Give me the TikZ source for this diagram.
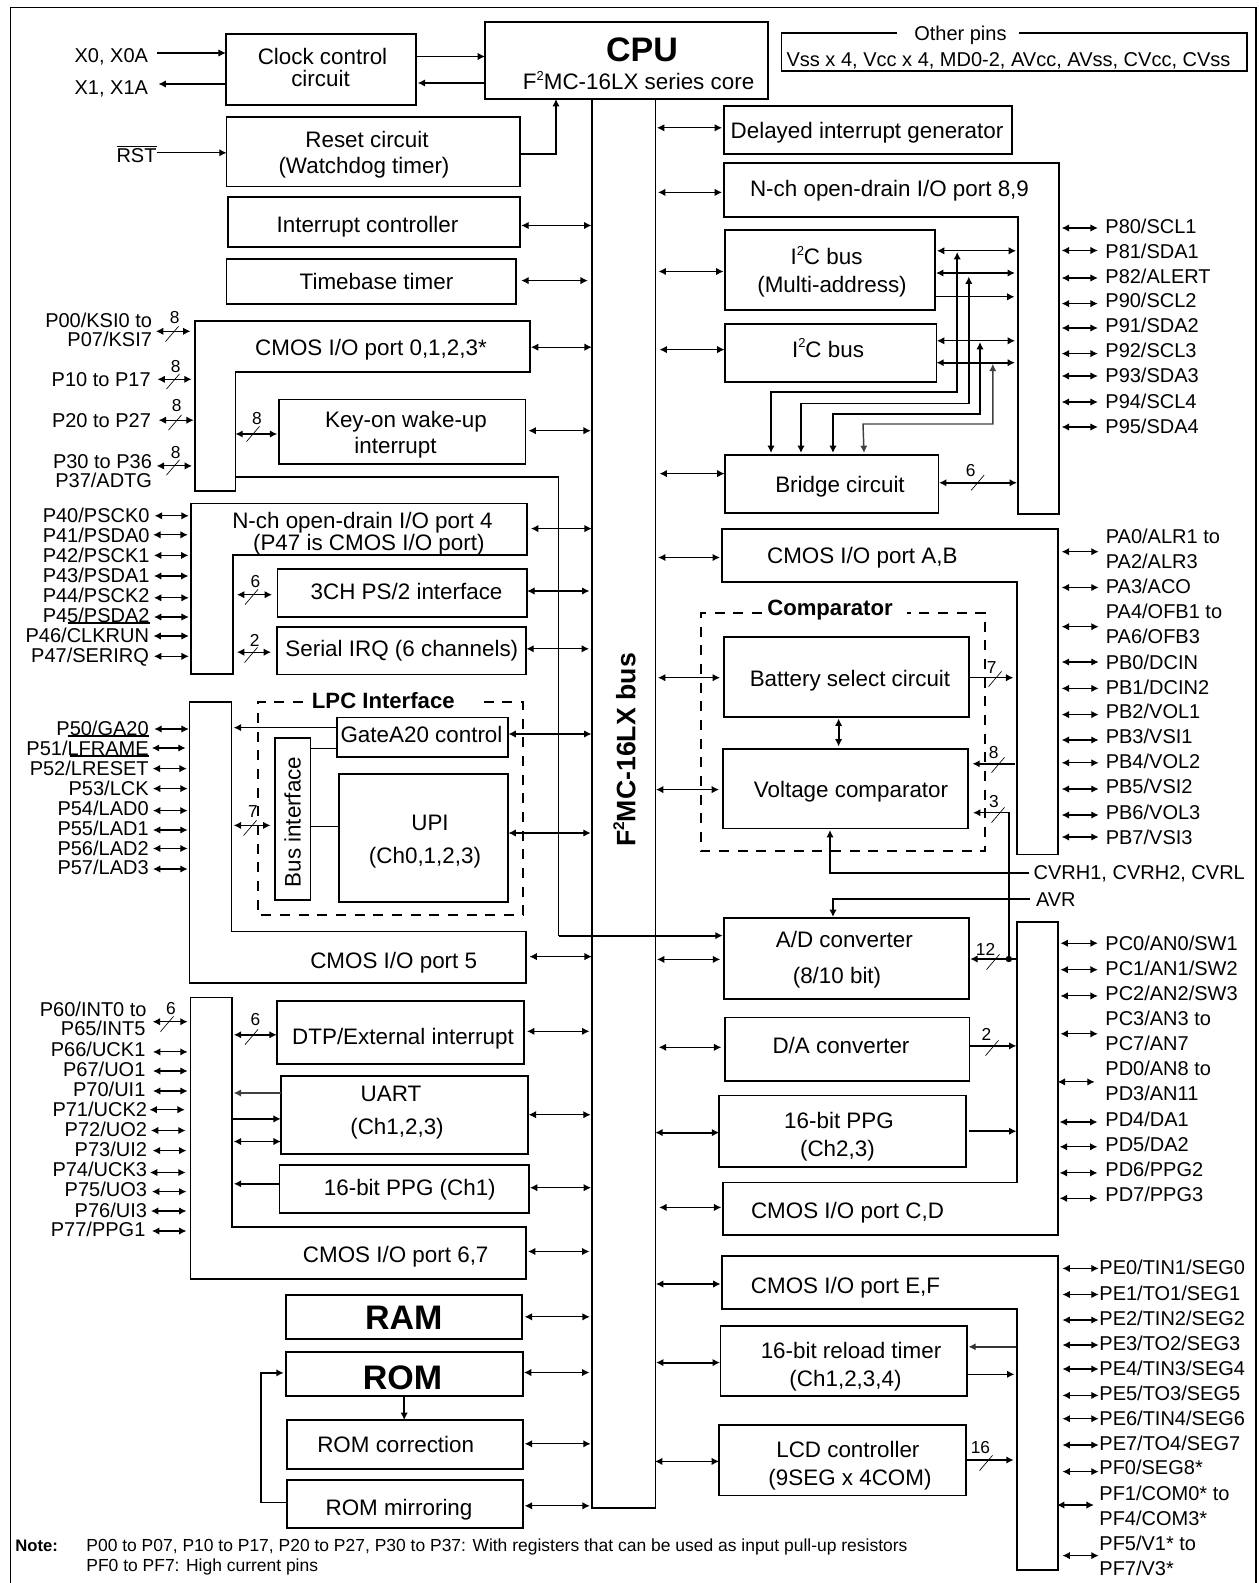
\documentclass[tikz,border=0pt]{standalone}
\usepackage{fontspec}
\setmainfont{Liberation Sans}
\usetikzlibrary{arrows.meta,calc}
\newcommand\xsup[1]{\raisebox{.42em}{\scalebox{.58}{#1}}}
\tikzset{
  bxs/.style={draw,line width=1.3pt,inner sep=0pt,outer sep=0pt},
  lshape/.style={draw,line width=1.3pt,line join=miter},
  bxt/.style={inner sep=0pt,outer sep=0pt,font=\fontsize{16.8}{16.8}\selectfont,text height=12pt,text depth=0pt},
  bigt/.style={inner sep=0pt,outer sep=0pt,font=\fontsize{25.5}{25.5}\selectfont\bfseries,text height=18.3pt,text depth=0pt},
  boldt/.style={inner sep=0pt,outer sep=0pt,font=\fontsize{16.6}{16.6}\selectfont\bfseries,text height=11.9pt,text depth=0pt},
  lab/.style={inner sep=0pt,outer sep=0pt,font=\fontsize{15}{15}\selectfont,text height=10.74pt,text depth=0pt},
  numt/.style={inner sep=0pt,outer sep=0pt,font=\fontsize{13}{13}\selectfont},
  notet/.style={inner sep=0pt,outer sep=0pt,anchor=west,font=\fontsize{13.1}{13.1}\selectfont,text height=9.4pt,text depth=0pt},
  bi/.style={{Latex[length=5.5pt,width=5.5pt]}-{Latex[length=5.5pt,width=5.5pt]},line width=.8pt},
  bik/.style={{Latex[length=5.5pt,width=5.5pt]}-{Latex[length=5.5pt,width=5.5pt]},line width=1.4pt},
  ar/.style={-{Latex[length=5.5pt,width=5.5pt]},line width=.8pt},
  ark/.style={-{Latex[length=5.5pt,width=5.5pt]},line width=1.4pt},
  wire/.style={line width=1.1pt},
  slashs/.style={line width=.5pt},
  dashbox/.style={line width=1.2pt,dash pattern=on 7.5pt off 6.5pt},
}
\newcommand\xbox[5]{\node[bxs,minimum width={(#4-#2)*.75pt},minimum height={(#5-#3)*.75pt}] (#1) at ({(#2+#4)/2},{(#3+#5)/2}) {};}
\newcommand\xtxt[4]{\node[bxt] (#1) at (#2,#3) {#4};}
\newcommand\xnum[4]{\node[numt] (#1) at (#2,#3) {#4};}
\newcommand\xslash[2]{\draw[slashs] ({#1-6.5},{#2+7.6}) -- ({#1+6.5},{#2-7.6});}
% box east side to bus west side
\newcommand\lbus[5][bi]{\draw[#1] ($(#2.east |- 0,#3)+(#4,0)$) -- ($(bus.west |- 0,#3)+(-#5,0)$);}
% bus east side to box west side
\newcommand\rbus[5][bi]{\draw[#1] ($(bus.east |- 0,#3)+(#4,0)$) -- ($(#2.west |- 0,#3)+(-#5,0)$);}
% pin label on the left: name, right x, y, text, arrow y, gap to label, block, gap to block
\newcommand\lpin[8]{\node[lab,anchor=east] (#1) at (#2,#3) {#4};
  \draw[bi] ($(#1.east |- 0,#5)+(#6,0)$) -- ($(#7 |- 0,#5)+(-#8,0)$);}
% pin label on the right: name, left x, y, text, arrow y, block, gap to block, gap to label
\newcommand\rpin[8]{\node[lab,anchor=west] (#1) at (#2,#3) {#4};
  \draw[bi] ($(#6 |- 0,#5)+(#7,0)$) -- ($(#1.west |- 0,#5)+(-#8,0)$);}
\newcommand\rlab[4]{\node[lab,anchor=west] (#1) at (#2,#3) {#4};}
\begin{document}
\begin{tikzpicture}[x=.75pt,y=-.75pt]
\useasboundingbox (0,0) rectangle (1258,1583);
% frame
\draw[line width=1.1pt] (10.4,1583) -- (10.4,7.4) -- (1256,7.4) -- (1256,1583);
% bus
\xbox{bus}{591.8}{99}{655.6}{1508}
\node[inner sep=0pt,rotate=90,font=\fontsize{20}{20}\selectfont\bfseries] (bust) at (624.5,750) {F\xsup{2}MC-16LX bus};
% cpu
\node[bxs,fill=white,minimum width={283*.75pt},minimum height={77*.75pt}] (cpu) at (626.5,60.5) {};
\node[bigt] (cput) at (642,49.5) {CPU};
\xtxt{cput2}{638.6}{82}{F\xsup{2}MC-16LX series core}
% clock
\xbox{clk}{225.8}{33.8}{415.8}{105.1}
\xtxt{clkt1}{322.5}{57}{Clock control}
\xtxt{clkt2}{320.5}{78.5}{circuit}
\draw[ar] (clk.east |- 0,56.5) -- (cpu.west |- 0,56.5);
\draw[ar] (cpu.west |- 0,83) -- ($(clk.east |- 0,83)+(2,0)$);
\node[lab,anchor=east] (x0) at (148,55) {X0, X0A};
\node[lab,anchor=east] (x1) at (148,87) {X1, X1A};
\draw[ar] ($(x0.east |- 0,53)+(9,0)$) -- (clk.west |- 0,53);
\draw[ar] (clk.west |- 0,84) -- ($(x1.east |- 0,84)+(10.5,0)$);
% reset
\xbox{rst}{226.6}{117}{520.3}{186.6}
\xtxt{rstt1}{367}{139.5}{Reset circuit}
\xtxt{rstt2}{364}{165.5}{(Watchdog timer)}
\node[lab,anchor=east] (rstl) at (156.5,155) {$\overline{\hbox{RST}}$};
\draw[ar] (rstl.east |- 0,152.8) -- (rst.west |- 0,152.8);
\coordinate (rstk) at (556,154);
\draw[ark] (rst.east |- rstk) -- (rstk) -- (rstk |- cpu.south);
% interrupt / timebase
\xbox{intc}{227.8}{197}{520.3}{247}
\xtxt{intct}{367.5}{224.5}{Interrupt controller}
\lbus{intc}{225.5}{1}{0.4}
\xbox{tbt}{226.6}{259}{516.3}{304}
\xtxt{tbtt}{376.5}{281.5}{Timebase timer}
\lbus{tbt}{280.6}{5}{4}
% port 0-3
\coordinate (p0) at (195.3,321);
\draw[lshape] (p0) -- (530,321) -- (530,372) -- (235.4,372) -- (235.4,491) -- (195.3,491) -- cycle;
\xtxt{p0t}{371}{347}{CMOS I/O port 0,1,2,3*}
\coordinate (p0i) at (235.4,476.7);
\draw[lshape,line width=1.2pt] (p0i) -- (558.5,476.7) -- (558.5,935.6) coordinate (p0c);
\draw[bi] (531,347.2) coordinate (p0e) -- (bus.west |- p0e);
\xbox{key}{278.8}{399.6}{525.5}{464.2}
\xtxt{keyt1}{406}{419}{Key-on wake-up}
\xtxt{keyt2}{395.5}{445}{interrupt}
\lbus{key}{430.7}{3}{1}
\draw[bik] ($(p0i |- 0,434)+(0,0)$) -- ($(key.west |- 0,434)+(-1.5,0)$);
\xnum{n8k}{257}{419}{8}\xslash{253}{434}
\node[lab,anchor=east] (p00) at (152,320.5) {P00/KSI0 to};
\node[lab,anchor=east] (p07) at (152,339.8) {P07/KSI7};
\draw[bi] ($(p07.east |- 0,331.3)+(4,0)$) -- ($(p0 |- 0,331.3)+(-4.9,0)$);
\xnum{n80}{174.8}{317.8}{8}\xslash{172}{334}
\lpin{p10}{150.7}{379.6}{P10 to P17}{379.3}{6.8}{p0}{3.7}
\xnum{n81}{175.6}{366.8}{8}\xslash{173}{381.5}
\lpin{p20}{151}{420}{P20 to P27}{420.2}{7.7}{p0}{1.6}
\xnum{n82}{176.8}{405.7}{8}\xslash{175}{422.5}
\node[lab,anchor=east] (p30) at (152,461.5) {P30 to P36};
\node[lab,anchor=east] (p37) at (152,480) {P37/ADTG};
\draw[bi] ($(p30.east |- 0,465.9)+(4.7,0)$) -- ($(p0 |- 0,465.9)+(-3.3,0)$);
\xnum{n83}{175.6}{453}{8}\xslash{173}{467.5}
% port 4
\coordinate (p4) at (190.8,503.4);
\draw[lshape] (p4) -- (526.7,503.4) -- (526.7,555) -- (233,555) -- (233,674) -- (190.8,674) -- cycle;
\xtxt{p4t1}{362.4}{520.7}{N-ch open-drain I/O port 4}
\xtxt{p4t2}{368.8}{542}{(P47 is CMOS I/O port)}
\draw[bi] (531,528.6) coordinate (p4e) -- (bus.west |- p4e);
\xbox{ps2}{277.6}{568.9}{526.7}{617}
\xtxt{ps2t}{406.6}{591.2}{3CH PS/2 interface}
\lbus{ps2}{591}{0.5}{2.4}
\xbox{irq}{276.8}{627}{525.9}{674.6}
\xtxt{irqt}{401.8}{648.4}{Serial IRQ (6 channels)}
\lbus{irq}{648.8}{0.5}{2.8}
\draw[bi] (237,594.7) coordinate (a6) -- ($(ps2.west |- a6)+(-5.6,0)$);
\xnum{n6p}{255.5}{582}{6}\xslash{251.5}{597}
\draw[bi] (237,652.2) coordinate (a2) -- ($(irq.west |- a2)+(-5.8,0)$);
\xnum{n2i}{254.7}{640}{2}\xslash{251}{655}
\lpin{p40}{149.5}{515.5}{P40/PSCK0}{515.8}{5.2}{p4}{2}
\lpin{p41}{149.5}{535.5}{P41/PSDA0}{534.8}{3.7}{p4}{3}
\lpin{p42}{149.5}{555}{P42/PSCK1}{555.4}{4.5}{p4}{2.4}
\lpin{p43}{149.5}{575}{P43/PSDA1}{576}{4.5}{p4}{2.4}
\lpin{p44}{149.5}{595.4}{P44/PSCK2}{597.8}{4.5}{p4}{2}
\lpin{p45}{149.5}{615.4}{P45/PSDA2}{617}{4.5}{p4}{2}
\lpin{p46}{149}{635}{P46/CLKRUN}{636}{4.5}{p4}{2}
\lpin{p47}{149}{655}{P47/SERIRQ}{656.3}{5}{p4}{2}
\draw[line width=1pt] (67.5,623) -- (p45.east |- 0,623);
% port 5
\coordinate (p5) at (189.6,702);
\draw[lshape] (p5) -- (231.4,702) -- (231.4,931.5) -- (526,931.5) -- (526,982.8) -- (189.6,982.8) -- cycle;
\xtxt{p5t}{393.7}{960.4}{CMOS I/O port 5}
\draw[bi] (529.5,956.6) coordinate (p5e) -- (bus.west |- p5e);
\draw[dashbox] (303,702) -- (258,702) -- (258,915) -- (523,915) -- (523,702) -- (477.3,702);
\node[boldt] (lpct) at (383.3,700.4) {LPC Interface};
\xbox{gate}{336.7}{717.6}{508.2}{756.9}
\xtxt{gatet}{421.5}{734}{GateA20 control}
\xbox{bif}{274.8}{738.3}{310.6}{900}
\node[bxt,rotate=90,text height=12pt] (bift) at (292.5,822) {Bus interface};
\xbox{upi}{338.7}{774}{508.2}{901.9}
\xtxt{upit1}{430}{822.7}{UPI}
\xtxt{upit2}{425}{855.7}{(Ch0,1,2,3)}
\draw[ar] (gate.west |- 0,727.6) -- (233.8,727.6);
\draw[wire] (bif.east |- 0,748.6) -- (gate.west |- 0,748.6);
\draw[wire] (bif.east |- 0,826.4) -- (upi.west |- 0,826.4);
\draw[bi] (233.8,825.4) coordinate (a7) -- (270.4,825.4);
\xnum{n7}{253}{811.6}{7}\xslash{250}{828}
\lbus{gate}{734}{0.3}{0.4}
\lbus{upi}{833}{0.3}{1.2}
\lpin{p50}{148.7}{728}{P50/GA20}{729}{5.6}{p5}{0.8}
\lpin{p51}{148.7}{748}{P51/LFRAME}{748}{3.2}{p5}{4}
\lpin{p52}{148.7}{768}{P52/LRESET}{768.6}{4}{p5}{2.8}
\lpin{p53}{148.7}{788}{P53/LCK}{788.6}{4.3}{p5}{2}
\lpin{p54}{148.7}{808}{P54/LAD0}{810.6}{4.3}{p5}{2}
\lpin{p55}{148.7}{828}{P55/LAD1}{830}{4.3}{p5}{2}
\lpin{p56}{148.7}{848}{P56/LAD2}{848.5}{4.3}{p5}{2}
\lpin{p57}{148.7}{867.8}{P57/LAD3}{869}{4.3}{p5}{2}
\draw[line width=1pt] (67.5,735.9) -- (p50.east |- 0,735.9);
\draw[line width=1pt] (69.5,755.9) -- (p51.east |- 0,755.9);
% port 6,7
\coordinate (p6) at (190.4,997.6);
\draw[lshape] (p6) -- (232.2,997.6) -- (232.2,1227.2) -- (526.3,1227.2) -- (526.3,1278.7) -- (190.4,1278.7) -- cycle;
\xtxt{p6t}{395.7}{1254.3}{CMOS I/O port 6,7}
\draw[bi] (528,1251.5) coordinate (p6e) -- ($(bus.west |- p6e)+(-2.4,0)$);
\xbox{dtp}{276.8}{1001}{524.3}{1063.9}
\xtxt{dtpt}{403}{1036}{DTP/External interrupt}
\lbus{dtp}{1031.3}{2.7}{2.4}
\draw[bik] (233.8,1034.8) coordinate (a6d) -- (dtp.west |- a6d);
\xnum{n6d}{255.5}{1020}{6}\xslash{251.5}{1037}
\xbox{uart}{280.8}{1075.9}{528}{1153.8}
\xtxt{uartt1}{391}{1093.5}{UART}
\xtxt{uartt2}{397}{1126}{(Ch1,2,3)}
\lbus{uart}{1114.7}{0.7}{1.2}
\draw[ar,black!75] (uart.west |- 0,1093) -- (233.8,1093);
\coordinate (p6i) at (232.2,1118.9);
\draw[ark] (p6i) -- (uart.west |- p6i);
\draw[bi] (233.8,1141.5) coordinate (a3u) -- (uart.west |- a3u);
\xbox{ppg1}{279.6}{1165}{528.7}{1213}
\xtxt{ppg1t}{409.8}{1187.3}{16-bit PPG (Ch1)}
\lbus{ppg1}{1187.7}{1.3}{0.8}
\draw[ark] (ppg1.west |- 0,1183.8) -- (233.8,1183.8);
\node[lab,anchor=east] (p60) at (146.6,1009.6) {P60/INT0 to};
\node[lab,anchor=east] (p65) at (145.4,1028.6) {P65/INT5};
\draw[bi] ($(p65.east |- 0,1021.7)+(7.3,0)$) -- ($(p6 |- 0,1021.7)+(-2.8,0)$);
\xnum{n6i}{171}{1009}{6}\xslash{167}{1024}
\lpin{p66}{145.4}{1049.4}{P66/UCK1}{1051.9}{7.6}{p6}{2.8}
\lpin{p67}{145.4}{1069.5}{P67/UO1}{1071}{7.6}{p6}{2.8}
\lpin{p70}{145.4}{1089.3}{P70/UI1}{1091}{7.6}{p6}{2.8}
\lpin{p71}{147}{1109}{P71/UCK2}{1109.7}{2.5}{p6}{5.6}
\lpin{p72}{147}{1129}{P72/UO2}{1130.5}{4}{p6}{4.8}
\lpin{p73}{147}{1149}{P73/UI2}{1150.6}{5.7}{p6}{4}
\lpin{p74}{147}{1169.3}{P74/UCK3}{1172.5}{3}{p6}{4.8}
\lpin{p75}{147}{1189.4}{P75/UO3}{1191.6}{5}{p6}{4}
\lpin{p76}{147}{1210}{P76/UI3}{1211}{4}{p6}{4}
\lpin{p77}{145.4}{1229.6}{P77/PPG1}{1231}{6.6}{p6}{4}
% RAM/ROM
\xbox{ram}{285.7}{1295}{522.3}{1339}
\node[bigt] (ramt) at (403.8,1316.8) {RAM};
\lbus{ram}{1316.8}{2.4}{2}
\xbox{rom}{285.7}{1352}{523}{1396}
\node[bigt] (romt) at (402.6,1377.4) {ROM};
\lbus{rom}{1372.5}{1}{2.4}
\xbox{cor}{286.9}{1420}{523}{1469}
\xtxt{cort}{395.7}{1444}{ROM correction}
\lbus{cor}{1443.8}{1.7}{1.2}
\xbox{mir}{286.9}{1480}{523}{1527.7}
\xtxt{mirt}{399}{1507.6}{ROM mirroring}
\lbus{mir}{1505.8}{1.7}{2}
\draw[ar,line width=1.1pt] (rom.south -| 404.2,0) -- (cor.north -| 404.2,0);
\draw[ar,line width=1.1pt] (mir.west |- 0,1502.7) -- (261,1502.7) -- (261,1372.9) -- ($(rom.west |- 0,1372.9)+(-2,0)$);
% note
\node[notet,font=\fontsize{12.5}{12.5}\selectfont\bfseries] (note) at (15.3,1545.3) {Note:};
\node[notet] (note1) at (86.4,1545.3) {P00 to P07, P10 to P17, P20 to P27, P30 to P37: With registers that can be used as input pull-up resistors};
\node[notet] (note2) at (86.4,1565.4) {PF0 to PF7: High current pins};
% other pins
\draw[line width=1.2pt] (897,33) -- (781.4,33) -- (781.4,71) -- (1246.7,71) -- (1246.7,33) -- (1018.5,33);
\node[lab] (oth) at (960.4,33) {Other pins};
\node[lab,font=\fontsize{15}{15}\selectfont] (oth2) at (1008.5,59) {Vss x 4, Vcc x 4, MD0-2, AVcc, AVss, CVcc, CVss};
% delayed
\xbox{dly}{723.7}{106}{1012}{154}
\xtxt{dlyt}{867}{130.5}{Delayed interrupt generator}
\rbus{dly}{127.8}{1.4}{1.7}
% port 8,9
\coordinate (p8) at (1059,163);
\draw[lshape] (723.7,163) -- (p8) -- (1059,514) -- (1018,514) -- (1018,216.7) -- (723.7,216.7) -- cycle;
\xtxt{p8t}{889.5}{188.6}{N-ch open-drain I/O port 8,9}
\draw[bi] (658,192.4) coordinate (p8e) -- (722,192.4);
\coordinate (p8i) at (1018,300);
\xbox{i2ca}{725.3}{230}{935}{310.3}
\xtxt{i2cat1}{826.5}{257}{I\xsup{2}C bus}
\xtxt{i2cat2}{832}{285}{(Multi-address)}
\rbus{i2ca}{271.5}{3}{1.8}
\xbox{i2cb}{725.3}{323.9}{936.4}{382}
\xtxt{i2cbt}{828}{349}{I\xsup{2}C bus}
\rbus{i2cb}{349.6}{4}{0.8}
\xbox{brg}{725.3}{455}{938.4}{513}
\xtxt{brgt}{840}{484}{Bridge circuit}
\rbus{brg}{473.6}{4}{0.8}
\draw[bi] ($(i2ca.east |- 0,250.8)+(2,0)$) -- ($(p8i |- 0,250.8)+(-2,0)$);
\draw[bik] ($(i2ca.east |- 0,273)+(1,0)$) -- ($(p8i |- 0,273)+(-3,0)$);
\draw[ar] (i2ca.east |- 0,296.8) -- ($(p8i |- 0,296.8)+(-3.5,0)$);
\draw[bi] ($(i2cb.east |- 0,340.8)+(.6,0)$) -- ($(p8i |- 0,340.8)+(-3,0)$);
\draw[bik] (i2cb.east |- 0,362.7) -- ($(p8i |- 0,362.7)+(-3,0)$);
\draw[bik] ($(brg.east |- 0,482.8)+(.6,0)$) -- ($(p8i |- 0,482.8)+(-1,0)$);
\xnum{n6b}{970.8}{470.6}{6}\xslash{977.6}{482.8}
\draw[line width=1.1pt,{Latex[length=5.5pt,width=5.5pt]}-{Latex[length=5.5pt,width=5.5pt]}] (957.2,252) -- (957.2,392) -- (771,392) -- (771,453) ;
\draw[line width=1.1pt,{Latex[length=5.5pt,width=5.5pt]}-{Latex[length=5.5pt,width=5.5pt]}] (968.8,276.5) -- (968.8,403.3) -- (801,403.3) -- (801,453);
\draw[line width=1.1pt,{Latex[length=5.5pt,width=5.5pt]}-{Latex[length=5.5pt,width=5.5pt]}] (980,342) -- (980,414) -- (833,414) -- (833,453);
\draw[line width=1.1pt,black!75,{Latex[length=5.5pt,width=5.5pt]}-{Latex[length=5.5pt,width=5.5pt]}] (992.8,363.8) -- (992.8,424) -- (863,424) -- (864,453);
\rpin{p80}{1105.4}{226}{P80/SCL1}{228}{p8}{2.7}{7.6}
\rpin{p81}{1105.4}{251}{P81/SDA1}{250.5}{p8}{2.7}{7.6}
\rpin{p82}{1105.4}{276}{P82/ALERT}{278}{p8}{2.7}{7.6}
\rpin{p90}{1105.4}{300}{P90/SCL2}{303.6}{p8}{2.7}{7.6}
\rpin{p91}{1105.4}{325}{P91/SDA2}{328}{p8}{2.7}{7.6}
\rpin{p92}{1105.4}{350}{P92/SCL3}{353.6}{p8}{2.7}{7.6}
\rpin{p93}{1105.4}{375}{P93/SDA3}{376}{p8}{2.7}{7.6}
\rpin{p94}{1105.4}{401}{P94/SCL4}{402}{p8}{2.7}{7.6}
\rpin{p95}{1105.4}{426}{P95/SDA4}{427}{p8}{2.7}{7.6}
% port A,B
\coordinate (pa) at (1058,529);
\draw[lshape] (722,529) -- (pa) -- (1058,854.4) -- (1017.3,854.4) -- (1017.3,582) -- (722,582) -- cycle;
\xtxt{pat}{862.3}{555.5}{CMOS I/O port A,B}
\draw[bik] (658,557.5) coordinate (pae) -- (720,557.5);
\coordinate (pai) at (1017.3,700);
\draw[dashbox] (762,613) -- (700.9,613) -- (700.9,851) -- (985.2,851) -- (985.2,613) -- (907,613);
\node[boldt] (cmpt) at (830,607.5) {Comparator};
\xbox{bat}{723.7}{637}{969.2}{717}
\xtxt{batt}{850}{678.4}{Battery select circuit}
\xbox{vcp}{723}{748.7}{968}{828.5}
\xtxt{vcpt}{851}{789.6}{Voltage comparator}
\draw[bik] (838.6,718.5) -- (838.6,746.5);
\rbus{bat}{677.7}{2.4}{3.7}
\rbus{vcp}{789.6}{0.4}{4}
\draw[ar] (bat.east |- 0,677.7) -- ($(pai |- 0,677.7)+(-4,0)$);
\xnum{n7b}{991.6}{668}{7}\xslash{995}{679}
\draw[ark] ($(pai |- 0,763.8)+(-2.3,0)$) -- ($(vcp.east |- 0,763.8)+(4.4,0)$);
\xnum{n8v}{993.6}{753}{8}\xslash{998}{765}
\coordinate (jn) at (1008.8,959);
\draw[wire,-{Latex[length=5.5pt,width=5.5pt]}] (jn) -- (1008.8,812.7) -- ($(vcp.east |- 0,812.7)+(5,0)$);
\xnum{n3v}{994}{801.3}{3}\xslash{998}{815}
\node[lab,anchor=west] (cvr) at (1033.7,872.3) {CVRH1, CVRH2, CVRL};
\draw[ark] (cvr.west |- 0,873) ++(-5,0) -- (830,873) -- (830,830);
\node[lab,anchor=west] (avr) at (1036,899.5) {AVR};
\draw[ar,line width=1.1pt] (avr.west |- 0,898.8) ++(-6,0) -- (833,898.8) -- (833,917);
\xbox{adc}{723.7}{918}{969.2}{998.7}
\xtxt{adct1}{844.3}{939}{A/D converter}
\xtxt{adct2}{837}{975}{(8/10 bit)}
\draw[ark] (p0c) -- ($(adc.west |- p0c)+(-1,0)$);
\rbus{adc}{959.4}{1.4}{3.5}
\coordinate (pc) at (1058,922.2);
\draw[lshape] (1017.3,922.2) -- (pc) -- (1058,1235.3) -- (723,1235.3) -- (723,1182.4) -- (1017.3,1182.4) -- cycle;
\xtxt{pct}{847.5}{1210.6}{CMOS I/O port C,D}
\draw[bi] (659.2,1207.4) coordinate (pce) -- (721.3,1207.4);
\draw[ark] (1016.5,959) -- ($(adc.east |- 0,959)+(1,0)$);
\fill (jn) circle (3.2);
\xnum{n12}{985.6}{949.4}{12}\xslash{993}{962}
\xbox{dac}{725}{1017.6}{969.6}{1080.8}
\xtxt{dact}{841}{1045.5}{D/A converter}
\rbus{dac}{1047.3}{3.2}{3.7}
\draw[ark] (dac.east |- 0,1045.9) -- (1016.5,1045.9);
\xnum{n2d}{986.4}{1034}{2}\xslash{992}{1048}
\xbox{ppg2}{719.3}{1095.6}{966}{1166.9}
\xtxt{ppg2t1}{839}{1120.3}{16-bit PPG}
\xtxt{ppg2t2}{837.4}{1148.5}{(Ch2,3)}
\rbus[bik]{ppg2}{1132.6}{-0.4}{0}
\draw[ar,line width=1.1pt] ($(ppg2.east |- 0,1131.2)+(2.8,0)$) -- (1016.5,1131.2);
\rpin{pa0}{1105.8}{536.5}{PA0/ALR1 to}{551.7}{pa}{3.7}{7.2}
\rlab{pa2}{1105.8}{561.3}{PA2/ALR3}
\rpin{pa3}{1105.8}{586}{PA3/ACO}{587.5}{pa}{3.7}{7.2}
\rpin{pa4}{1105.8}{611}{PA4/OFB1 to}{626.7}{pa}{3.7}{7.2}
\rlab{pa6}{1105.8}{636}{PA6/OFB3}
\rpin{pb0}{1105.8}{662}{PB0/DCIN}{662}{pa}{3.7}{7.2}
\rpin{pb1}{1105.8}{687}{PB1/DCIN2}{688.4}{pa}{3.7}{7.2}
\rpin{pb2}{1105.8}{711.5}{PB2/VOL1}{714.6}{pa}{3.7}{7.2}
\rpin{pb3}{1105.8}{736}{PB3/VSI1}{740}{pa}{3.7}{7.2}
\rpin{pb4}{1105.8}{761}{PB4/VOL2}{762.8}{pa}{3.7}{7.2}
\rpin{pb5}{1105.8}{786}{PB5/VSI2}{789}{pa}{3.7}{7.2}
\rpin{pb6}{1105.8}{812}{PB6/VOL3}{815}{pa}{3.7}{7.2}
\rpin{pb7}{1105.8}{837}{PB7/VSI3}{837}{pa}{3.7}{7.2}
\rpin{pc0}{1105.4}{943.2}{PC0/AN0/SW1}{943.2}{pc}{2.5}{7.6}
\rpin{pc1}{1105.4}{968.3}{PC1/AN1/SW2}{969.7}{pc}{2.5}{7.6}
\rpin{pc2}{1105.4}{993.5}{PC2/AN2/SW3}{995.9}{pc}{2.5}{7.6}
\rpin{pc3}{1105.4}{1018.3}{PC3/AN3 to}{1033.8}{pc}{2.5}{7.6}
\rlab{pc7}{1105.4}{1043.4}{PC7/AN7}
\rpin{pd0}{1105.4}{1068}{PD0/AN8 to}{1081.9}{pc}{-0.3}{10.8}
\rlab{pd3}{1105.4}{1093.5}{PD3/AN11}
\rpin{pd4}{1105.4}{1119}{PD4/DA1}{1122}{pc}{1.7}{8}
\rpin{pd5}{1105.4}{1144}{PD5/DA2}{1146.8}{pc}{1.7}{8}
\rpin{pd6}{1105.4}{1169.3}{PD6/PPG2}{1172.9}{pc}{1.7}{8}
\rpin{pd7}{1105.4}{1194.4}{PD7/PPG3}{1198.3}{pc}{1.7}{8}
% port E,F
\coordinate (pe) at (1058,1256);
\draw[lshape] (721.7,1256) -- (pe) -- (1058,1569.7) -- (1017.3,1569.7) -- (1017.3,1308.7) -- (721.7,1308.7) -- cycle;
\xtxt{pet}{845.5}{1285.4}{CMOS I/O port E,F}
\draw[bi] (656,1284) coordinate (pee) -- (720.5,1284);
\coordinate (pei) at (1017.3,1400);
\xbox{rld}{720.5}{1326.3}{967.2}{1396}
\xtxt{rldt1}{851}{1350.6}{16-bit reload timer}
\xtxt{rldt2}{845.5}{1378.5}{(Ch1,2,3,4)}
\rbus[bik]{rld}{1362.6}{0.4}{0.5}
\draw[ar,line width=1.1pt,black!80] ($(pei |- 0,1346.8)+(-1,0)$) -- ($(rld.east |- 0,1346.8)+(1.2,0)$);
\draw[ar,line width=1.1pt] (rld.east |- 0,1374.3) -- ($(pei |- 0,1374.3)+(-2.8,0)$);
\xbox{lcd}{719.3}{1425}{966}{1495.6}
\xtxt{lcdt1}{847.9}{1449.7}{LCD controller}
\xtxt{lcdt2}{850}{1477.3}{(9SEG x 4COM)}
\rbus{lcd}{1461.4}{-0.6}{0.3}
\draw[ar,line width=1.1pt] (lcd.east |- 0,1460) -- ($(pei |- 0,1460)+(-3.6,0)$);
\xnum{n16}{980.4}{1447.3}{16}\xslash{986}{1463}
\rpin{pe0}{1099.4}{1267.4}{PE0/TIN1/SEG0}{1268.4}{pe}{4.5}{.8}
\rpin{pe1}{1099.4}{1293.5}{PE1/TO1/SEG1}{1294.5}{pe}{4.5}{.8}
\rpin{pe2}{1099.4}{1318}{PE2/TIN2/SEG2}{1320}{pe}{4.5}{.8}
\rpin{pe3}{1099.4}{1343}{PE3/TO2/SEG3}{1345}{pe}{4.5}{.8}
\rpin{pe4}{1099.4}{1368}{PE4/TIN3/SEG4}{1369}{pe}{4.5}{.8}
\rpin{pe5}{1099.4}{1393}{PE5/TO3/SEG5}{1395.4}{pe}{4.5}{.8}
\rpin{pe6}{1099.4}{1418}{PE6/TIN4/SEG6}{1418.7}{pe}{4.5}{.8}
\rpin{pe7}{1099.4}{1443.4}{PE7/TO4/SEG7}{1445}{pe}{4.5}{.8}
\rpin{pf0}{1099.4}{1467.7}{PF0/SEG8*}{1471.6}{pe}{4.5}{.8}
\rpin{pf1}{1099.4}{1493.5}{PF1/COM0* to}{1505}{pe}{-1}{5.6}
\rlab{pf4}{1099.4}{1518.5}{PF4/COM3*}
\rpin{pf5}{1099.4}{1543.6}{PF5/V1* to}{1555.6}{pe}{4.5}{.8}
\rlab{pf7}{1099.4}{1568.6}{PF7/V3*}
\end{tikzpicture}
\end{document}
